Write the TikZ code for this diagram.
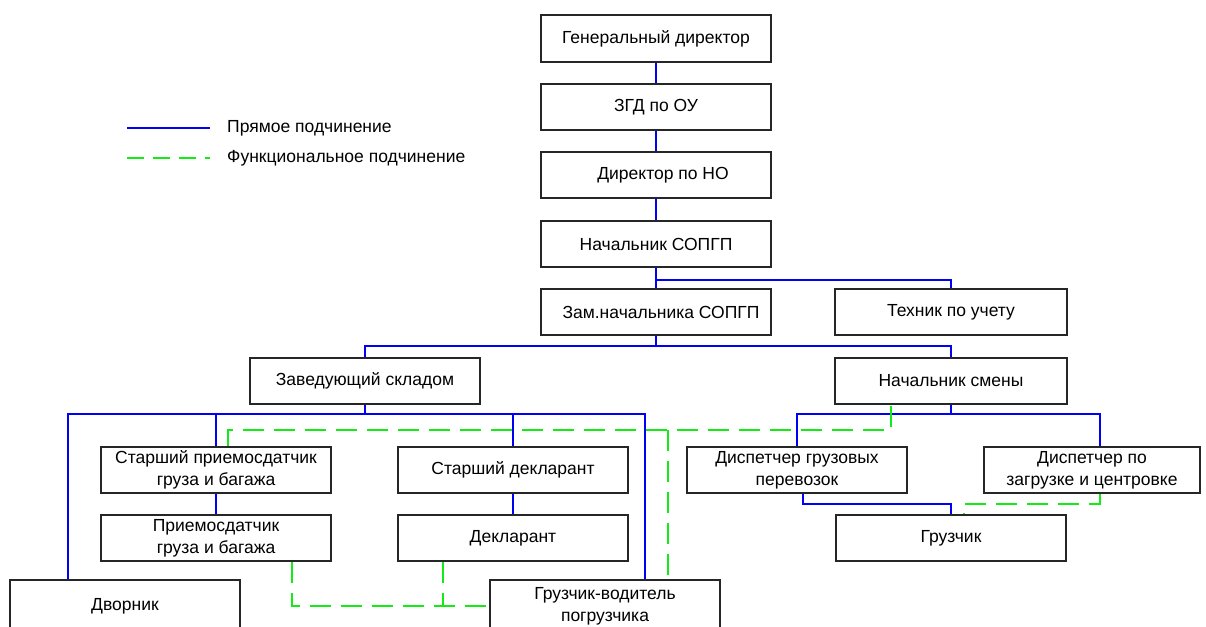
\documentclass[tikz,border=0pt]{standalone}
\usepackage{fontspec}
\setmainfont{Liberation Sans}
\usetikzlibrary{calc}
\definecolor{dirblue}{RGB}{0,0,245}
\definecolor{fungreen}{RGB}{20,235,20}
\tikzset{
  box/.style={draw=black!85, line width=1.6pt, fill=white, inner sep=0pt, align=center,
    font=\fontsize{17.5}{22}\selectfont},
  direct/.style={dirblue, line width=1.6pt},
  func/.style={fungreen, line width=1.6pt, dash pattern=on 21pt off 10pt},
  legtext/.style={anchor=west, inner sep=0pt, font=\fontsize{17.5}{20}\selectfont}
}
\newcommand{\bx}[6]{% name, x1, y1, x2, y2, text
  \node[box, minimum width={#4-#2}, minimum height={#5-#3}] (#1) at ({(#2+#4)/2},{(#3+#5)/2}) {#6};}
\begin{document}
\begin{tikzpicture}[x=1pt,y=-1pt]
\useasboundingbox (0,0) rectangle (1206,626);
\clip (0,0) rectangle (1206,626);
% legend
\coordinate (la1) at (127,128); \coordinate (lb1) at (210,128);
\coordinate (la2) at (127,158); \coordinate (lb2) at (210,158);
\draw[direct] (la1) -- (lb1);
\draw[func, dash pattern=on 17pt off 9pt] (la2) -- (lb2);
\node[legtext] (lt1) at (227,128) {Прямое подчинение};
\node[legtext] (lt2) at (227,158) {Функциональное подчинение};
% boxes
\bx{gen}{541}{15}{771}{62}{Генеральный директор}
\bx{zgd}{541}{84}{771}{130}{ЗГД по ОУ}
\bx{dno}{541}{152}{771}{198}{\hspace*{14pt}Директор по НО}
\bx{nach}{541}{221}{771}{267}{Начальник СОПГП}
\bx{zam}{541}{289}{771}{335}{\hspace*{10pt}Зам.начальника СОПГП}
\bx{tech}{835}{289}{1067}{335}{Техник по учету}
\bx{zav}{250}{358}{480}{404}{Заведующий складом}
\bx{smena}{835}{358}{1067}{404}{Начальник смены}
\bx{spr}{101}{447}{331}{493}{Старший приемосдатчик\\груза и багажа}
\bx{pr}{101}{515}{331}{561}{Приемосдатчик\\груза и багажа}
\bx{sdek}{398}{447}{628}{493}{Старший декларант}
\bx{dek}{398}{515}{628}{561}{Декларант}
\bx{dg}{687}{447}{907}{493}{Диспетчер грузовых\\перевозок}
\bx{dz}{984}{447}{1200}{493}{Диспетчер по\\загрузке и центровке}
\bx{gr}{836}{515}{1066}{561}{Грузчик}
\bx{dvor}{10}{580}{240}{632}{Дворник}
\bx{gv}{490}{580}{720}{632}{Грузчик-водитель\\погрузчика}
% direct subordination
\draw[direct] (gen) -- (zgd);
\draw[direct] (zgd) -- (dno);
\draw[direct] (dno) -- (nach);
\draw[direct] (nach.south) -- ++(0,12) -| (tech.north);
\draw[direct] (nach.south) -- (zam.north);
\draw[direct] (zam.south) -- ++(0,10) coordinate (z1);
\draw[direct] (z1) -| (zav.north);
\draw[direct] (z1) -| (smena.north);
\draw[direct] (zav.south) -- ++(0,9) coordinate (w1);
\draw[direct] (w1) -| ([xshift=-57pt]dvor.north);
\draw[direct] (w1) -| (spr.north);
\draw[direct] (w1) -| (sdek.north);
\draw[direct] (w1) -| ([xshift=40pt]gv.north);
\draw[direct] (spr) -- (pr);
\draw[direct] (sdek) -- (dek);
\draw[direct] (smena.south) -- ++(0,9) coordinate (s1);
\draw[direct] (s1) -| (dg.north);
\draw[direct] (s1) -| ([xshift=8pt]dz.north);
\draw[direct] ([xshift=6pt]dg.south) |- ($(gr.north)+(0,-10)$) -- (gr.north);
% functional subordination
\coordinate (gl) at (668,430);
\draw[func] ([xshift=12pt]spr.north) |- (gl) -| ([xshift=-60pt]smena.south);
\draw[func] (gl) -- (gl |- gv.north);
\draw[func] ([xshift=8pt]dz.south) |- ($(gr.north)+(13,-10)$) -- ([xshift=13pt]gr.north);
\draw[func] ([xshift=76pt]pr.south) |- (gv.west);
\draw[func] ([xshift=-70pt]dek.south) -- ([xshift=-70pt]dek.south |- gv.west);
\end{tikzpicture}
\end{document}
